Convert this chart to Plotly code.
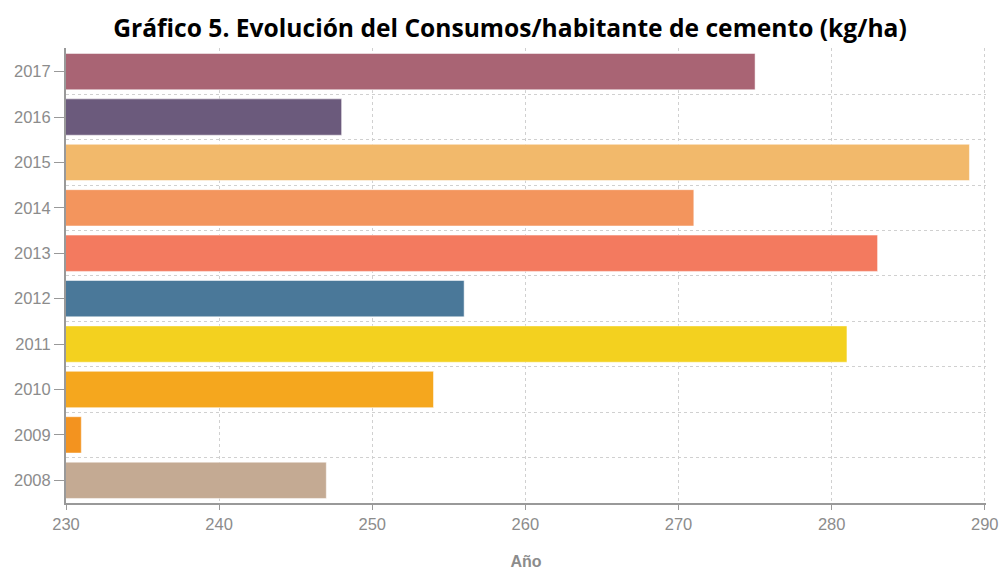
import plotly.graph_objects as go

years = [2008, 2009, 2010, 2011, 2012, 2013, 2014, 2015, 2016, 2017]
consumo = [247, 231, 254, 281, 256, 283, 271, 289, 248, 275]
colores = ['#c4aa93', '#f3931f', '#f5a71e', '#f3d11f', '#4a7899',
           '#f37a5f', '#f3955d', '#f2b96b', '#6b5a7c', '#a96474']

grid_col = '#d0d0d0'
axis_col = '#999999'

fig = go.Figure(go.Bar(
    x=consumo, y=years, orientation='h',
    marker=dict(color=colores, line=dict(color='rgba(255,255,255,0.5)', width=1)),
    width=0.8,
))

fig.update_layout(
    width=1002, height=570,
    plot_bgcolor='white', paper_bgcolor='white',
    margin=dict(l=66, r=16, t=48, b=67),
    showlegend=False,
    title=dict(text='<b>Gráfico 5. Evolución del Consumos/habitante de cemento (kg/ha)</b>',
               x=0.509, xanchor='center', y=0.951, yanchor='middle',
               font=dict(family='Open Sans', size=24.6, color='black')),
    font=dict(family='Liberation Sans', size=16.5, color='#8c8c8c'),
)

fig.update_xaxes(
    range=[230, 290.08], dtick=10, tick0=230, automargin=False,
    ticklabeloverflow='allow',
    showgrid=True, gridcolor=grid_col, griddash='dot', gridwidth=1,
    showline=True, linecolor=axis_col, linewidth=2,
    ticks='outside', ticklen=5, tickcolor=axis_col,
    zeroline=False,
    title=dict(text='<b>Año</b>', font=dict(size=16, color='#8c8c8c'), standoff=30),
)

fig.update_yaxes(
    range=[2007.5, 2017.52], tickmode='array', tickvals=years,
    ticktext=[str(y) for y in years], automargin=False,
    showgrid=False, zeroline=False,
    showline=True, linecolor=axis_col, linewidth=2,
    ticks='outside', ticklen=10, tickcolor=axis_col,
    minor=dict(tick0=2007.5, dtick=1, showgrid=True, gridcolor=grid_col,
               griddash='dot', gridwidth=1, ticks=''),
)

# drop the default body margin so the figure fills the window
fig.write_html('out.html', config={'displayModeBar': False},
               post_script="document.body.style.margin='0px';")
